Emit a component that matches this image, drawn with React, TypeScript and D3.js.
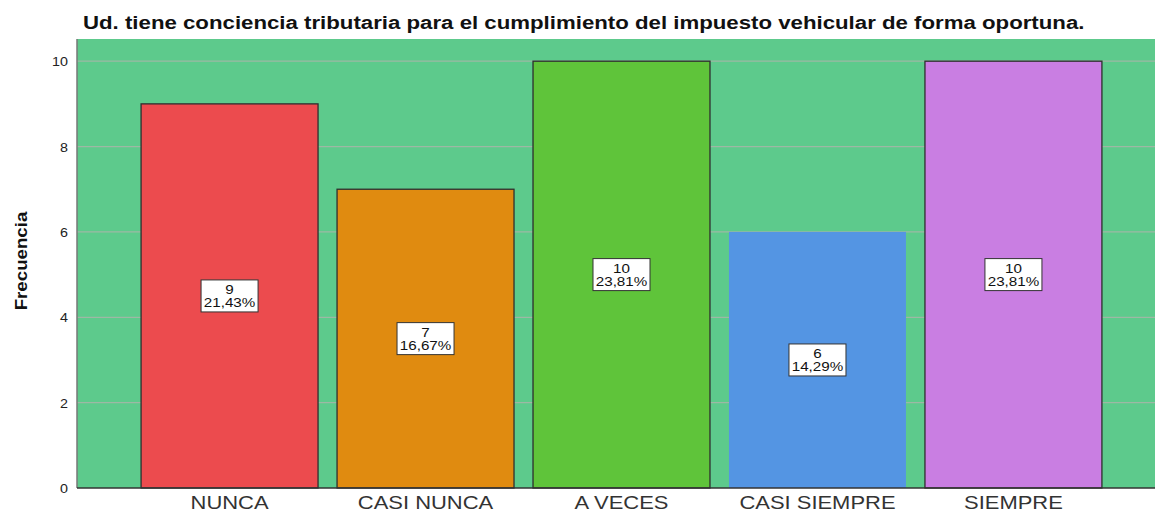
import { useEffect, useRef } from "react";
import * as d3 from "d3";

const categories = ["NUNCA", "CASI NUNCA", "A VECES", "CASI SIEMPRE", "SIEMPRE"];
const counts = [9, 7, 10, 6, 10];
const percents = ["21,43%", "16,67%", "23,81%", "14,29%", "23,81%"];
const barColors = ["#EC4B4E", "#E08B10", "#5FC43A", "#5495E3", "#C97EE2"];
const bordered = [true, true, true, false, true];
const yTicks = [0, 2, 4, 6, 8, 10];
const title = "Ud. tiene conciencia tributaria para el cumplimiento del impuesto vehicular de forma oportuna.";

export default function App() {
  const ref = useRef<SVGSVGElement | null>(null);

  useEffect(() => {
    if (!ref.current) return;
    const svg = d3.select(ref.current);
    svg.selectAll("*").remove();

    const width = 1155;
    const height = 513;
    const plot = { left: 77, top: 39, right: 1155, bottom: 488 };
    const font = "'Liberation Sans', Arial, sans-serif";

    svg.append("rect").attr("width", width).attr("height", height).attr("fill", "#ffffff");

    const x = d3
      .scaleBand<string>()
      .domain(categories)
      .range([plot.left, 1166])
      .paddingInner(0.097)
      .paddingOuter(0.327);

    const y = d3.scaleLinear().domain([0, 10.52]).range([plot.bottom, plot.top]);

    // SPSS text renders wider than Liberation Sans, stretch it horizontally
    const stretched = (
      parent: d3.Selection<any, unknown, null, undefined>,
      tx: number,
      ty: number,
      sx: number,
      rot = 0
    ) =>
      parent
        .append("text")
        .attr("transform", `translate(${tx},${ty}) rotate(${rot}) scale(${sx},1)`)
        .attr("font-family", font);

    // MARK: plot background
    svg
      .append("rect")
      .attr("x", plot.left)
      .attr("y", plot.top)
      .attr("width", plot.right - plot.left)
      .attr("height", plot.bottom - plot.top)
      .attr("fill", "#5DCA8C");

    // grid
    svg
      .append("g")
      .selectAll("line")
      .data(yTicks.filter((t) => t > 0))
      .join("line")
      .attr("x1", plot.left)
      .attr("x2", plot.right)
      .attr("y1", (d) => y(d))
      .attr("y2", (d) => y(d))
      .attr("stroke", "#9DB8A4")
      .attr("stroke-width", 1.2);

    // MARK: bars
    const g = svg.append("g");
    categories.forEach((c, i) => {
      const x0 = x(c) ?? 0;
      g.append("rect")
        .attr("x", x0)
        .attr("y", y(counts[i]))
        .attr("width", x.bandwidth())
        .attr("height", y(0) - y(counts[i]))
        .attr("fill", barColors[i])
        .attr("stroke", bordered[i] ? "#2f2f2f" : "none")
        .attr("stroke-width", 1.3);
    });

    // axes lines
    svg
      .append("line")
      .attr("x1", plot.left)
      .attr("x2", plot.left)
      .attr("y1", plot.top)
      .attr("y2", plot.bottom)
      .attr("stroke", "#777")
      .attr("stroke-width", 1.5);
    svg
      .append("line")
      .attr("x1", plot.left)
      .attr("x2", plot.right)
      .attr("y1", plot.bottom)
      .attr("y2", plot.bottom)
      .attr("stroke", "#333")
      .attr("stroke-width", 1.3);

    // MARK: value labels
    categories.forEach((c, i) => {
      const cx = (x(c) ?? 0) + x.bandwidth() / 2;
      const cy = y(counts[i] / 2);
      const lg = g.append("g").attr("transform", `translate(${cx},${cy})`);
      lg.append("rect")
        .attr("x", -28.5)
        .attr("y", -16)
        .attr("width", 57)
        .attr("height", 32)
        .attr("fill", "#ffffff")
        .attr("stroke", "#333")
        .attr("stroke-width", 1);
      stretched(lg, 0, -2, 1.17)
        .attr("text-anchor", "middle")
        .attr("font-size", 13)
        .attr("fill", "#111")
        .text(String(counts[i]));
      stretched(lg, 0, 11, 1.17)
        .attr("text-anchor", "middle")
        .attr("font-size", 13)
        .attr("fill", "#111")
        .text(percents[i]);
    });

    // y tick labels
    yTicks.forEach((t) => {
      stretched(svg, 68, y(t) + 5, 1.1)
        .attr("text-anchor", "end")
        .attr("font-size", 13)
        .attr("fill", "#222")
        .text(String(t));
    });

    // x tick labels
    categories.forEach((c) => {
      stretched(svg, (x(c) ?? 0) + x.bandwidth() / 2, 509, 1.22)
        .attr("text-anchor", "middle")
        .attr("font-size", 18)
        .attr("fill", "#333")
        .text(c);
    });

    // y axis title
    stretched(svg, 27, 261, 1.1, -90)
      .attr("text-anchor", "middle")
      .attr("font-size", 17)
      .attr("font-weight", "bold")
      .attr("fill", "#111")
      .text("Frecuencia");

    // title
    stretched(svg, 83, 29, 1.27)
      .attr("font-size", 17.5)
      .attr("font-weight", "bold")
      .attr("fill", "#111")
      .text(title);
  }, []);

  return (
    <svg
      ref={ref}
      width={1155}
      height={513}
      style={{ position: "absolute", left: 0, top: 0 }}
    />
  );
}
